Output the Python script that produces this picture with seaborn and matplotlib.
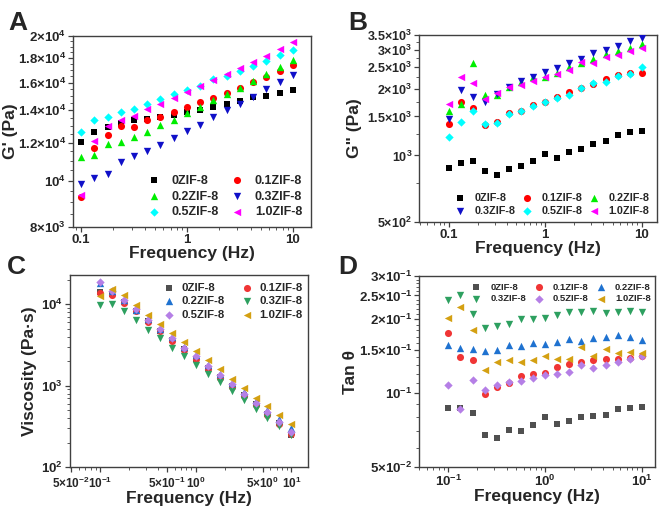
import numpy as np
import pandas as pd
import matplotlib
matplotlib.use("Agg")
import matplotlib.pyplot as plt
import matplotlib.ticker as mticker
import seaborn as sns

# frequency sweep (Hz)
freq = [0.1, 0.133, 0.178, 0.237, 0.316, 0.422, 0.562, 0.75, 1.0,
        1.33, 1.78, 2.37, 3.16, 4.22, 5.62, 7.5, 10.0]
samples = ["0ZIF-8", "0.1ZIF-8", "0.2ZIF-8", "0.3ZIF-8", "0.5ZIF-8", "1.0ZIF-8"]

# A: storage modulus G' (Pa)
g1_0 = [12010, 12590, 12900, 13150, 13380, 13430, 13540, 13670, 13920, 14010, 14210, 14460, 14650, 14910, 14980, 15250, 15460]
g1_01 = [9230, 11690, 12450, 12960, 12900, 13360, 13580, 13900, 14210, 14540, 14890, 15250, 15620, 16020, 16460, 16900, 17430]
g1_02 = [11180, 11320, 11910, 12010, 12300, 12630, 13020, 13380, 13820, 14210, 14720, 15130, 15570, 16120, 16640, 17200, 17830]
g1_03 = [9840, 10130, 10320, 10910, 11250, 11540, 11870, 12260, 12700, 13060, 13580, 14010, 14460, 14930, 15520, 16040, 16590]
g1_05 = [12590, 13360, 13540, 13860, 14080, 14420, 14770, 15130, 15440, 15770, 16250, 16490, 16900, 17350, 17770, 18250, 18720]
g1_10 = [9320, 12070, 13000, 13380, 13610, 14120, 14420, 14890, 15300, 15770, 16220, 16690, 17180, 17680, 18190, 18780, 19420]

# B: loss modulus G'' (Pa)
g2_0 = [879, 928, 944, 846, 815, 870, 893, 944, 1014, 977, 1032, 1071, 1124, 1162, 1232, 1271, 1292]
g2_01 = [1388, 1740, 1642, 1370, 1417, 1549, 1586, 1682, 1740, 1844, 1928, 2015, 2100, 2210, 2310, 2358, 2350]
g2_02 = [1581, 1711, 2622, 1869, 1874, 2043, 2157, 2255, 2265, 2366, 2500, 2604, 2741, 2865, 2965, 3068, 3186]
g2_03 = [1457, 1981, 1831, 1752, 1902, 2043, 2173, 2255, 2375, 2482, 2622, 2741, 2894, 2995, 3110, 3273, 3399]
g2_05 = [1207, 1422, 1586, 1393, 1408, 1543, 1586, 1664, 1752, 1819, 1882, 2015, 2114, 2157, 2294, 2342, 2508]
g2_10 = [1699, 2263, 2114, 1806, 1915, 2029, 2078, 2180, 2263, 2327, 2424, 2649, 2622, 2788, 2855, 2965, 3057]

# C: complex viscosity (Pa.s)
vis_0 = [14200, 13600, 10800, 8400, 6200, 4750, 3650, 2800, 2150, 1650, 1280, 990, 760, 590, 455, 350, 248]
vis_01 = [13910, 13150, 10480, 8201, 6065, 4656, 3542, 2719, 2108, 1603, 1254, 963, 739, 573, 440, 341, 257]
vis_02 = [18290, 14450, 11200, 8600, 6540, 5022, 3966, 2988, 2360, 1812, 1404, 1079, 836, 648, 497, 386, 302]
vis_03 = [9720, 10000, 8201, 6479, 4882, 3856, 2932, 2316, 1812, 1404, 1110, 860, 673, 521, 404, 316, 245]
vis_05 = [18820, 14450, 11410, 8844, 6479, 5022, 3856, 2932, 2295, 1745, 1365, 1038, 797, 618, 479, 361, 269]
vis_10 = [12540, 15580, 12900, 9906, 7464, 5785, 4483, 3443, 2643, 2049, 1588, 1197, 936, 712, 557, 432, 335]

# D: loss factor tan(theta)
tan_0 = [0.0873, 0.0873, 0.0833, 0.0674, 0.0657, 0.0707, 0.0703, 0.0741, 0.0797, 0.0746, 0.0767, 0.0797, 0.0810, 0.0815, 0.0862, 0.0867, 0.0881]
tan_01 = [0.1763, 0.1405, 0.1361, 0.0990, 0.1058, 0.1099, 0.1178, 0.1200, 0.1208, 0.1274, 0.1311, 0.1336, 0.1361, 0.1383, 0.1378, 0.1392, 0.1423]
tan_02 = [0.1569, 0.1520, 0.1506, 0.1487, 0.1492, 0.1569, 0.1559, 0.1604, 0.1578, 0.1614, 0.1660, 0.1629, 0.1670, 0.1692, 0.1718, 0.1697, 0.1640]
tan_03 = [0.2393, 0.2509, 0.2110, 0.1848, 0.1877, 0.1919, 0.2000, 0.2012, 0.2025, 0.2083, 0.2143, 0.2149, 0.2170, 0.2129, 0.2143, 0.2156, 0.2143]
tan_05 = [0.1082, 0.0865, 0.1127, 0.1032, 0.1078, 0.1106, 0.1124, 0.1152, 0.1185, 0.1193, 0.1219, 0.1303, 0.1270, 0.1298, 0.1344, 0.1374, 0.1423]
tan_10 = [0.2025, 0.2247, 0.1807, 0.1239, 0.1340, 0.1361, 0.1340, 0.1366, 0.1414, 0.1378, 0.1378, 0.1544, 0.1414, 0.1506, 0.1459, 0.1473, 0.1459]

sns.set_theme(style="ticks")
plt.rcParams["font.family"] = ["Liberation Sans", "DejaVu Sans"]
plt.rcParams["font.weight"] = "bold"
plt.rcParams["mathtext.fontset"] = "custom"
plt.rcParams["mathtext.rm"] = "Liberation Sans:bold"
plt.rcParams["mathtext.it"] = "Liberation Sans:bold"
plt.rcParams["mathtext.bf"] = "Liberation Sans:bold"
plt.rcParams["axes.unicode_minus"] = True

markers = {"0ZIF-8": "s", "0.1ZIF-8": "o", "0.2ZIF-8": "^",
           "0.3ZIF-8": "v", "0.5ZIF-8": "D", "1.0ZIF-8": "<"}
sizes = {"0ZIF-8": 22, "0.1ZIF-8": 26, "0.2ZIF-8": 28,
         "0.3ZIF-8": 28, "0.5ZIF-8": 18, "1.0ZIF-8": 28}
pal_top = {"0ZIF-8": "#000000", "0.1ZIF-8": "#ff0000", "0.2ZIF-8": "#00ee00",
           "0.3ZIF-8": "#1010c8", "0.5ZIF-8": "#00ffff", "1.0ZIF-8": "#ff00ff"}
pal_bot = {"0ZIF-8": "#505050", "0.1ZIF-8": "#f03535", "0.2ZIF-8": "#1f72d0",
           "0.3ZIF-8": "#2ea060", "0.5ZIF-8": "#b57fe6", "1.0ZIF-8": "#d4a012"}


def make_df(series):
    rows = []
    for name, vals in zip(samples, series):
        for f, v in zip(freq, vals):
            rows.append({"freq": f, "value": v, "sample": name})
    return pd.DataFrame(rows)


def draw(ax, series, palette):
    df = make_df(series)
    for name in samples:
        sub = df[df["sample"] == name]
        sns.scatterplot(data=sub, x="freq", y="value", color=palette[name],
                        marker=markers[name], s=sizes[name], linewidth=0,
                        label=name, ax=ax, zorder=3)
    ax.set_xscale("log")
    ax.set_yscale("log")
    for sp in ax.spines.values():
        sp.set_color("#404040")
        sp.set_linewidth(1.0)
    ax.tick_params(which="major", direction="out", length=3.5, width=0.9,
                   color="#404040", labelsize=9.5, pad=1.5)
    ax.tick_params(which="minor", direction="out", length=2, width=0.6,
                   color="#404040")
    ax.set_xlabel("Frequency (Hz)", fontsize=12.5, fontweight="bold", labelpad=0)


def set_ticks(axis, major, labels, minor):
    axis.set_major_locator(mticker.FixedLocator(major))
    axis.set_major_formatter(mticker.FixedFormatter(labels))
    axis.set_minor_locator(mticker.FixedLocator(minor))
    axis.set_minor_formatter(mticker.NullFormatter())


def place_legend(ax, order, ncol, fs, **kw):
    h, l = ax.get_legend_handles_labels()
    d = dict(zip(l, h))
    ax.legend([d[k] for k in order], order, ncol=ncol, frameon=False,
              prop={"weight": "bold", "size": fs},
              borderpad=0.2, **kw)


log_minor_x = [m * 10.0 ** e for e in (-2, -1, 0, 1) for m in range(2, 10)]

fig = plt.figure(figsize=(6.61, 5.08), dpi=100)

# ---- A ----
axA = fig.add_axes([0.1104, 0.5531, 0.360, 0.376])
draw(axA, [g1_0, g1_01, g1_02, g1_03, g1_05, g1_10], pal_top)
axA.set_xlim(0.084, 14.8)
axA.set_ylim(8000, 20000)
set_ticks(axA.xaxis, [0.1, 1, 10], ["0.1", "1", "10"], log_minor_x)
set_ticks(axA.yaxis, [8000, 10000, 12000, 14000, 16000, 18000, 20000],
          ["8×10$^{3}$", "10$^{4}$", "1.2×10$^{4}$", "1.4×10$^{4}$",
           "1.6×10$^{4}$", "1.8×10$^{4}$", "2×10$^{4}$"],
          np.arange(8000, 20001, 500))
axA.set_ylabel("G' (Pa)", fontsize=12.5, fontweight="bold")
axA.yaxis.set_label_coords(-0.232, 0.5)
place_legend(axA, ["0ZIF-8", "0.2ZIF-8", "0.5ZIF-8", "0.1ZIF-8", "0.3ZIF-8", "1.0ZIF-8"],
             2, 9, loc="lower right", bbox_to_anchor=(1.0, 0.0),
             handlelength=1.0, handletextpad=0.9, columnspacing=1.0, labelspacing=0.3)

# ---- B ----
axB = fig.add_axes([0.6339, 0.563, 0.360, 0.368])
draw(axB, [g2_0, g2_01, g2_02, g2_03, g2_05, g2_10], pal_top)
axB.set_xlim(0.049, 14.4)
axB.set_ylim(500, 3500)
set_ticks(axB.xaxis, [0.1, 1, 10], ["0.1", "1", "10"], log_minor_x)
set_ticks(axB.yaxis, [500, 1000, 1500, 2000, 2500, 3000, 3500],
          ["5×10$^{2}$", "10$^{3}$", "1.5×10$^{3}$", "2×10$^{3}$",
           "2.5×10$^{3}$", "3×10$^{3}$", "3.5×10$^{3}$"],
          np.arange(500, 3501, 250))
axB.tick_params(axis="y", labelsize=9)
axB.set_ylabel('G" (Pa)', fontsize=12.5, fontweight="bold")
axB.yaxis.set_label_coords(-0.24, 0.5)
place_legend(axB, ["0ZIF-8", "0.3ZIF-8", "0.1ZIF-8", "0.5ZIF-8", "0.2ZIF-8", "1.0ZIF-8"],
             3, 7.8, loc="lower right", bbox_to_anchor=(1.0, -0.01),
             handlelength=1.0, handletextpad=0.8, columnspacing=0.6, labelspacing=0.3)

# ---- C ----
axC = fig.add_axes([0.1059, 0.0807, 0.360, 0.378])
draw(axC, [vis_0, vis_01, vis_02, vis_03, vis_05, vis_10], pal_bot)
axC.set_xlim(0.0485, 14.9)
axC.set_ylim(100, 23000)
set_ticks(axC.xaxis, [0.05, 0.1, 0.5, 1, 5, 10],
          ["5×10$^{-2}$", "10$^{-1}$", "5×10$^{-1}$", "10$^{0}$", "5×10$^{0}$", "10$^{1}$"],
          [m * 10.0 ** e for e in (-2, -1, 0, 1) for m in (2, 3, 4, 6, 7, 8, 9)])
axC.tick_params(axis="x", labelsize=8.5, pad=3)
set_ticks(axC.yaxis, [100, 1000, 10000], ["10$^{2}$", "10$^{3}$", "10$^{4}$"],
          [m * 10.0 ** e for e in (2, 3, 4) for m in range(2, 10)])
axC.set_ylabel("Viscosity (Pa·s)", fontsize=12.5, fontweight="bold")
axC.yaxis.set_label_coords(-0.139, 0.5)
place_legend(axC, ["0ZIF-8", "0.2ZIF-8", "0.5ZIF-8", "0.1ZIF-8", "0.3ZIF-8", "1.0ZIF-8"],
             2, 8.2, loc="upper right", bbox_to_anchor=(1.01, 1.0),
             handlelength=1.0, handletextpad=0.6, columnspacing=1.4, labelspacing=0.3)

# ---- D ----
axD = fig.add_axes([0.6339, 0.0807, 0.357, 0.376])
draw(axD, [tan_0, tan_01, tan_02, tan_03, tan_05, tan_10], pal_bot)
axD.set_xlim(0.0498, 13.7)
axD.set_ylim(0.05, 0.3)
set_ticks(axD.xaxis, [0.1, 1, 10], ["10$^{-1}$", "10$^{0}$", "10$^{1}$"], log_minor_x)
set_ticks(axD.yaxis, [0.05, 0.1, 0.15, 0.2, 0.25, 0.3],
          ["5×10$^{-2}$", "10$^{-1}$", "1.5×10$^{-1}$", "2×10$^{-1}$",
           "2.5×10$^{-1}$", "3×10$^{-1}$"],
          np.arange(0.05, 0.301, 0.01))
axD.set_ylabel("Tan θ", fontsize=12.5, fontweight="bold")
axD.yaxis.set_label_coords(-0.258, 0.5)
place_legend(axD, ["0ZIF-8", "0.3ZIF-8", "0.1ZIF-8", "0.5ZIF-8", "0.2ZIF-8", "1.0ZIF-8"],
             3, 6.8, loc="upper right", bbox_to_anchor=(1.01, 1.0),
             handlelength=1.0, handletextpad=1.0, columnspacing=0.8, labelspacing=0.3)

# panel letters
for txt, x, y in [("A", 0.012, 0.955), ("B", 0.527, 0.955),
                  ("C", 0.010, 0.475), ("D", 0.512, 0.475)]:
    fig.text(x, y, txt, fontsize=19, fontweight="bold", va="center")

fig.savefig("out.png", dpi=100)
